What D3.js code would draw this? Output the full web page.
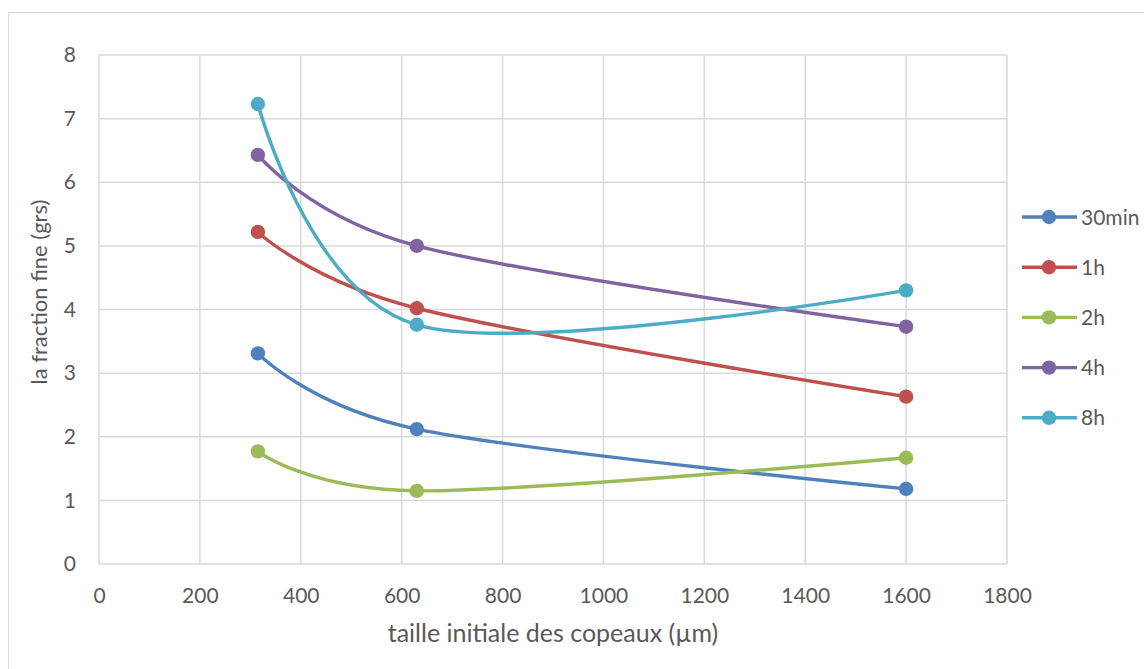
<!DOCTYPE html>
<html><head><meta charset="utf-8">
<script src="https://cdn.jsdelivr.net/npm/d3@7"></script>
<style>body{margin:0;background:#fff;}svg{display:block;font-family:Lato,"Open Sans",sans-serif;}</style>
</head><body>
<svg id="chart" width="1144" height="669"></svg>
<script>
const xValues = [315, 630, 1600];
const seriesNames = ["30min", "1h", "2h", "4h", "8h"];
const s30min = [3.31, 2.12, 1.18];
const s1h = [5.22, 4.02, 2.63];
const s2h = [1.77, 1.15, 1.67];
const s4h = [6.43, 5.00, 3.73];
const s8h = [7.23, 3.76, 4.30];
const colors = ["#4F81BD", "#C0504D", "#9BBB59", "#8064A2", "#4BACC6"];
const xTicks = [0, 200, 400, 600, 800, 1000, 1200, 1400, 1600, 1800];
const yTicks = [0, 1, 2, 3, 4, 5, 6, 7, 8];
const xTitle = "taille initiale des copeaux (\u00b5m)";
const yTitle = "la fraction fine (grs)";

const series = [s30min, s1h, s2h, s4h, s8h].map((v, i) => ({name: seriesNames[i], color: colors[i], pts: v.map((y, j) => [xValues[j], y])}));

const svg = d3.select("#chart");
const L = 99, R = 1007, T = 55, B = 564;
const x = d3.scaleLinear().domain([0, 1800]).range([L, R]);
const y = d3.scaleLinear().domain([0, 8]).range([B, T]);
const textColor = "#595959", gridColor = "#d9d9d9";

// outer border
svg.append("rect").attr("x", 8.5).attr("y", 12.5).attr("width", 1150).attr("height", 680)
  .attr("fill", "none").attr("stroke", gridColor).attr("stroke-width", 1);

// grid
const g = svg.append("g");
g.selectAll(".gx").data(xTicks).join("line")
  .attr("x1", d => x(d)).attr("x2", d => x(d)).attr("y1", T).attr("y2", B)
  .attr("stroke", gridColor).attr("stroke-width", 1.5);
g.selectAll(".gy").data(yTicks).join("line")
  .attr("y1", d => y(d)).attr("y2", d => y(d)).attr("x1", L).attr("x2", R)
  .attr("stroke", gridColor).attr("stroke-width", 1.5);

// axes labels
const xAxis = svg.append("g").attr("transform", `translate(0,${B})`)
  .call(d3.axisBottom(x).tickValues(xTicks).tickFormat(d3.format("d")).tickSize(0));
const yAxis = svg.append("g").attr("transform", `translate(${L},0)`)
  .call(d3.axisLeft(y).tickValues(yTicks).tickFormat(d3.format("d")).tickSize(0).tickPadding(23));
[xAxis, yAxis].forEach(a => {
  a.select(".domain").remove();
  a.selectAll("text").attr("fill", textColor).style("font-size", "21px").style("font-family", "Lato");
});
xAxis.selectAll("text").attr("y", 39).attr("dy", "0");

svg.append("text").attr("x", (L + R) / 2).attr("y", 642).attr("text-anchor", "middle")
  .attr("fill", textColor).style("font-size", "25px").text(xTitle);
svg.append("text").attr("transform", "translate(47,292) rotate(-90)").attr("text-anchor", "middle")
  .attr("fill", textColor).style("font-size", "22px").text(yTitle);

// lines
const line = d3.line().x(d => x(d[0])).y(d => y(d[1])).curve(d3.curveCardinal.tension(0));
const sg = svg.append("g");
series.forEach(s => {
  sg.append("path").attr("d", line(s.pts)).attr("fill", "none")
    .attr("stroke", s.color).attr("stroke-width", 3.4).attr("stroke-linecap", "round");
});
series.forEach(s => {
  sg.selectAll(null).data(s.pts).join("circle")
    .attr("cx", d => x(d[0])).attr("cy", d => y(d[1])).attr("r", 7.2).attr("fill", s.color);
});

// legend
const leg = svg.append("g");
series.forEach((s, i) => {
  const ly = 217 + i * 50.2;
  leg.append("line").attr("x1", 1022).attr("x2", 1077).attr("y1", ly).attr("y2", ly)
    .attr("stroke", s.color).attr("stroke-width", 3.4);
  leg.append("circle").attr("cx", 1049).attr("cy", ly).attr("r", 7.2).attr("fill", s.color);
  leg.append("text").attr("x", 1081).attr("y", ly).attr("dy", "0.36em").attr("fill", textColor)
    .style("font-size", "21px").text(s.name);
});
</script>
</body></html>
